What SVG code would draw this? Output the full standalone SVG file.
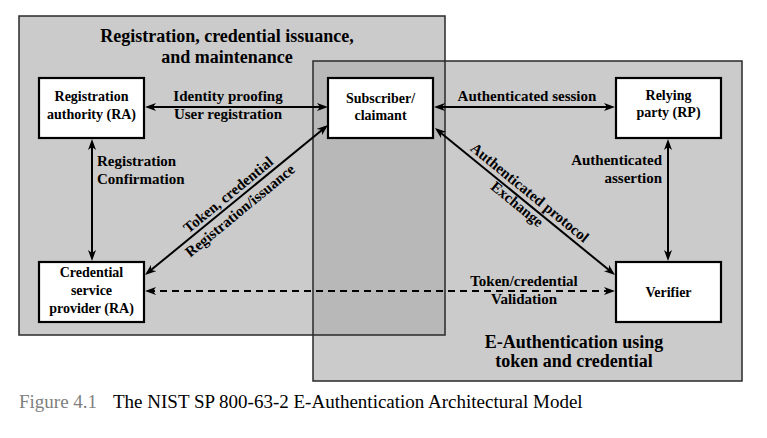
<svg xmlns="http://www.w3.org/2000/svg" width="767" height="438" viewBox="0 0 767 438">
<defs>
<style>
.region{fill:#cbcbcb;stroke:none}
.overlap{fill:#b8b8b8;stroke:none}
.frame{fill:none;stroke:#2a2a2a;stroke-width:1.5}
.box{fill:#ffffff;stroke:#000;stroke-width:2.2}
text{font-family:"Liberation Serif","Times New Roman",serif;font-weight:bold;fill:#000}
.nt{font-size:14px;text-anchor:middle}
.lb{font-size:15px}
.ttl{font-size:18px;text-anchor:middle}
.c{text-anchor:middle}
.cap{font-size:19px;font-weight:normal}
.conn{stroke:#000;stroke-width:2;fill:none;marker-start:url(#ah);marker-end:url(#ah)}
.dash{stroke-dasharray:7,5}
</style>
<marker id="ah" viewBox="0 0 11 8" refX="8" refY="4" markerWidth="11" markerHeight="8" markerUnits="userSpaceOnUse" orient="auto-start-reverse">
<path d="M0,0 L11,4 L0,8 L3,4 z" fill="#000"/>
</marker>
</defs>
<rect width="767" height="438" fill="#ffffff"/>
<g id="regions">
<rect class="region" x="19" y="16" width="426" height="319"/>
<rect class="region" x="313" y="61" width="429" height="320"/>
<rect class="overlap" x="313" y="61" width="132" height="274"/>
<rect class="frame" x="19" y="16" width="426" height="319"/>
<rect class="frame" x="313" y="61" width="429" height="320"/>
<text class="ttl" x="227" y="42">Registration, credential issuance,</text>
<text class="ttl" x="227" y="63">and maintenance</text>
<text class="ttl" x="574" y="348">E-Authentication using</text>
<text class="ttl" x="574" y="367">token and credential</text>
</g>
<g id="connectors">
<line class="conn" x1="148" y1="107" x2="325" y2="107"/>
<line class="conn" x1="437" y1="107" x2="612" y2="107"/>
<line class="conn" x1="92" y1="142" x2="92" y2="258"/>
<line class="conn" x1="668" y1="142" x2="668" y2="258"/>
<line class="conn dash" x1="148" y1="291" x2="612" y2="291"/>
<line class="conn" x1="147.3" y1="273.1" x2="325.7" y2="126.9"/>
<line class="conn" x1="437.3" y1="129.9" x2="612.7" y2="273.1"/>
<text class="lb c" x="228" y="101">Identity proofing</text>
<text class="lb c" x="228" y="119">User registration</text>
<text class="lb c" x="527" y="101">Authenticated session</text>
<text class="lb" x="97" y="166">Registration</text>
<text class="lb" x="97" y="184">Confirmation</text>
<text class="lb" x="662" y="165" text-anchor="end">Authenticated</text>
<text class="lb" x="662" y="183" text-anchor="end">assertion</text>
<text class="lb c" x="524" y="286">Token/credential</text>
<text class="lb c" x="524" y="304">Validation</text>
<g transform="translate(236.5,200) rotate(-39.34)">
<text class="lb c" x="-3" y="-4.3">Token, credential</text>
<text class="lb c" x="-4" y="15.4">Registration/issuance</text>
</g>
<g transform="translate(525,201.5) rotate(39.24)">
<text class="lb c" x="-2" y="-5">Authenticated protocol</text>
<text class="lb c" x="-4.5" y="12">Exchange</text>
</g>
</g>
<g id="node-ra">
<rect class="box" x="39" y="78" width="105" height="60"/>
<text class="nt" x="91.5" y="101">Registration</text>
<text class="nt" x="91.5" y="119">authority (RA)</text>
</g>
<g id="node-subscriber">
<rect class="box" x="328" y="78" width="105" height="60"/>
<text class="nt" x="380.5" y="103">Subscriber/</text>
<text class="nt" x="380.5" y="120">claimant</text>
</g>
<g id="node-rp">
<rect class="box" x="616" y="78" width="105" height="60"/>
<text class="nt" x="668.5" y="100">Relying</text>
<text class="nt" x="668.5" y="117">party (RP)</text>
</g>
<g id="node-csp">
<rect class="box" x="39" y="262" width="105" height="60"/>
<text class="nt" x="91.5" y="277">Credential</text>
<text class="nt" x="91.5" y="295">service</text>
<text class="nt" x="91.5" y="313">provider (RA)</text>
</g>
<g id="node-verifier">
<rect class="box" x="616" y="262" width="105" height="60"/>
<text class="nt" x="668.5" y="297">Verifier</text>
</g>
<g id="caption">
<text class="cap" x="19" y="408" fill="#808080" style="fill:#808080">Figure 4.1</text>
<text class="cap" x="113" y="408">The NIST SP 800-63-2 E-Authentication Architectural Model</text>
</g>
</svg>
